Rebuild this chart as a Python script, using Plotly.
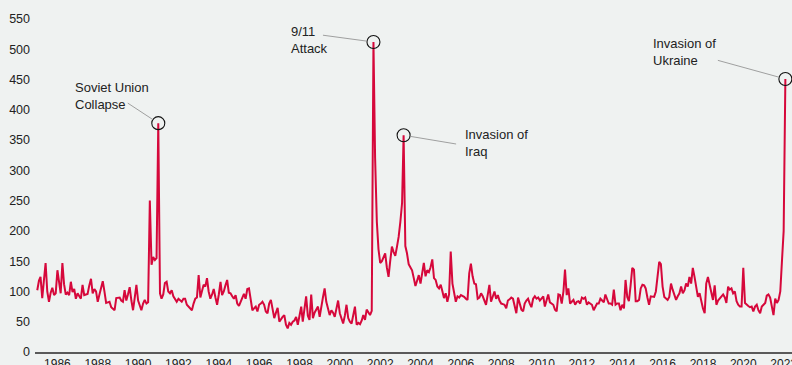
import pandas as pd
import plotly.graph_objects as go

# Monthly geopolitical risk index, January 1985 onwards (one row per year)
gpr_values = [
    102, 118, 124, 89, 118, 147, 100, 83, 98, 106, 94, 97,      # 1985
    135, 110, 97, 147, 112, 95, 98, 94, 116, 99, 104, 88,       # 1986
    97, 92, 88, 111, 94, 95, 96, 110, 121, 97, 104, 100,        # 1987
    83, 95, 108, 117, 100, 81, 82, 83, 74, 72, 69, 89,          # 1988
    90, 90, 85, 83, 102, 85, 95, 107, 85, 69, 90, 111,          # 1989
    85, 76, 69, 80, 86, 80, 82, 250, 144, 157, 152, 155,        # 1990
    378, 97, 88, 95, 114, 116, 100, 97, 102, 92, 86, 83,        # 1991
    88, 86, 83, 88, 88, 78, 75, 72, 69, 80, 88, 90,             # 1992
    127, 90, 100, 111, 108, 122, 100, 88, 95, 104, 90, 78,      # 1993
    95, 116, 94, 100, 110, 119, 98, 97, 92, 88, 94, 80,         # 1994
    76, 83, 90, 96, 88, 104, 105, 85, 69, 72, 75, 67,           # 1995
    78, 80, 83, 78, 67, 64, 80, 86, 70, 56, 65, 73,             # 1996
    50, 55, 58, 61, 45, 39, 48, 45, 50, 52, 58, 45,             # 1997
    60, 75, 50, 70, 92, 60, 53, 95, 56, 65, 70, 75,             # 1998
    58, 72, 90, 105, 83, 72, 61, 69, 65, 58, 72, 85,            # 1999
    64, 55, 47, 60, 78, 56, 50, 47, 60, 75, 45, 48,             # 2000
    46, 52, 61, 53, 70, 64, 61, 68, 512, 320, 215, 170,         # 2001
    147, 150, 155, 163, 140, 124, 150, 174, 165, 159, 174, 190, # 2002
    215, 246, 358, 175, 163, 145, 140, 135, 122, 109, 118, 127, # 2003
    113, 130, 147, 125, 135, 132, 140, 153, 122, 119, 108, 105, # 2004
    111, 100, 89, 97, 83, 95, 166, 113, 94, 83, 92, 90,         # 2005
    94, 93, 91, 88, 86, 130, 146, 125, 113, 112, 88, 90,        # 2006
    97, 92, 85, 78, 94, 111, 83, 90, 100, 88, 94, 85,           # 2007
    80, 79, 78, 72, 85, 87, 90, 88, 75, 64, 90, 82,             # 2008
    70, 67, 80, 85, 88, 80, 74, 88, 92, 88, 90, 85,             # 2009
    88, 92, 75, 88, 95, 82, 80, 78, 70, 67, 95, 94,             # 2010
    80, 100, 136, 94, 105, 80, 83, 86, 78, 83, 84, 80,          # 2011
    90, 88, 90, 78, 82, 80, 78, 69, 75, 80, 80, 88,             # 2012
    85, 82, 95, 88, 80, 80, 78, 103, 78, 80, 80, 69,            # 2013
    78, 72, 119, 91, 84, 110, 139, 136, 84, 84, 86, 105,        # 2014
    111, 110, 105, 90, 78, 92, 91, 91, 100, 120, 149, 145,      # 2015
    108, 91, 88, 86, 91, 113, 103, 95, 86, 92, 97, 108,         # 2016
    97, 102, 113, 108, 124, 113, 139, 124, 105, 91, 97, 84,     # 2017
    72, 64, 113, 124, 110, 100, 86, 110, 78, 85, 88, 91,        # 2018
    95, 90, 81, 108, 103, 105, 97, 100, 84, 78, 75, 75,         # 2019
    139, 81, 78, 76, 74, 75, 67, 75, 78, 69, 64, 75,            # 2020
    78, 81, 93, 95, 90, 75, 61, 88, 81, 86, 100, 150,           # 2021
    200, 451,                                                   # 2022
]
start_month = "1985-01-01"

# Highlighted events
event_labels = ["Soviet Union<br>Collapse", "9/11<br>Attack", "Invasion of<br>Iraq", "Invasion of<br>Ukraine"]
event_months = ["1991-01-01", "2001-09-01", "2003-03-01", "2022-02-01"]

# Label offsets (px) relative to the event point, and connector tail offsets (px)
label_offsets = [(-85, 27), (-84, 2), (59, -8), (-134, 27)]
connector_tails = [(-32, -21), (-52, -7), (54, 9), (-69, -19)]

tick_years = list(range(1986, 2023, 2))
y_ticks = list(range(0, 551, 50))

LINE_RED = "#d6083b"
BG = "#eff2f1"
TEXT = "#222222"

months = pd.date_range(start_month, periods=len(gpr_values), freq="MS")
series = pd.Series(gpr_values, index=months)
event_idx = pd.to_datetime(event_months)
event_vals = [series[d] for d in event_idx]

fig = go.Figure()
fig.add_trace(go.Scatter(
    x=months, y=gpr_values, mode="lines",
    line=dict(color=LINE_RED, width=2),
    hoverinfo="x+y", showlegend=False,
))
fig.add_trace(go.Scatter(
    x=event_idx, y=event_vals, mode="markers",
    marker=dict(symbol="circle-open", size=13, color="#111111", line=dict(width=1.1)),
    hoverinfo="skip", showlegend=False,
))

annotations = []
for d, v, label, (dx, dy), (tx, ty) in zip(event_idx, event_vals, event_labels, label_offsets, connector_tails):
    annotations.append(dict(
        x=d, y=v, xref="x", yref="y", text=label, showarrow=False,
        xanchor="left", yanchor="middle", align="left",
        xshift=dx, yshift=dy,
        font=dict(family="Liberation Sans, Arial, sans-serif", size=13, color=TEXT),
    ))
    annotations.append(dict(
        x=d, y=v, xref="x", yref="y", text="", showarrow=True,
        ax=tx, ay=ty, arrowhead=0, arrowwidth=0.8, arrowcolor="#8a8a8a",
        standoff=6.5,
    ))

fig.update_layout(
    width=792, height=365,
    margin=dict(l=35, r=0, t=19, b=13),
    paper_bgcolor=BG, plot_bgcolor=BG,
    font=dict(family="Liberation Sans, Arial, sans-serif", color=TEXT),
    annotations=annotations,
    showlegend=False,
)
fig.update_xaxes(
    type="date",
    range=["1984-11-21", "2022-06-01"],
    tickvals=[f"{y}-01-01" for y in tick_years],
    ticktext=[str(y) for y in tick_years],
    tickfont=dict(size=12, color=TEXT),
    ticklabeloverflow="allow",
    showgrid=False, zeroline=False,
    showline=True, linecolor="#5a5a5a", linewidth=1.5,
    ticks="", automargin=False,
)
fig.update_yaxes(
    range=[0, 550],
    tickvals=y_ticks,
    tickfont=dict(size=12.5, color=TEXT),
    showgrid=False, zeroline=False, showline=False,
    ticks="", automargin=False, ticklabelstandoff=4,
)

fig.write_html("out.html")
